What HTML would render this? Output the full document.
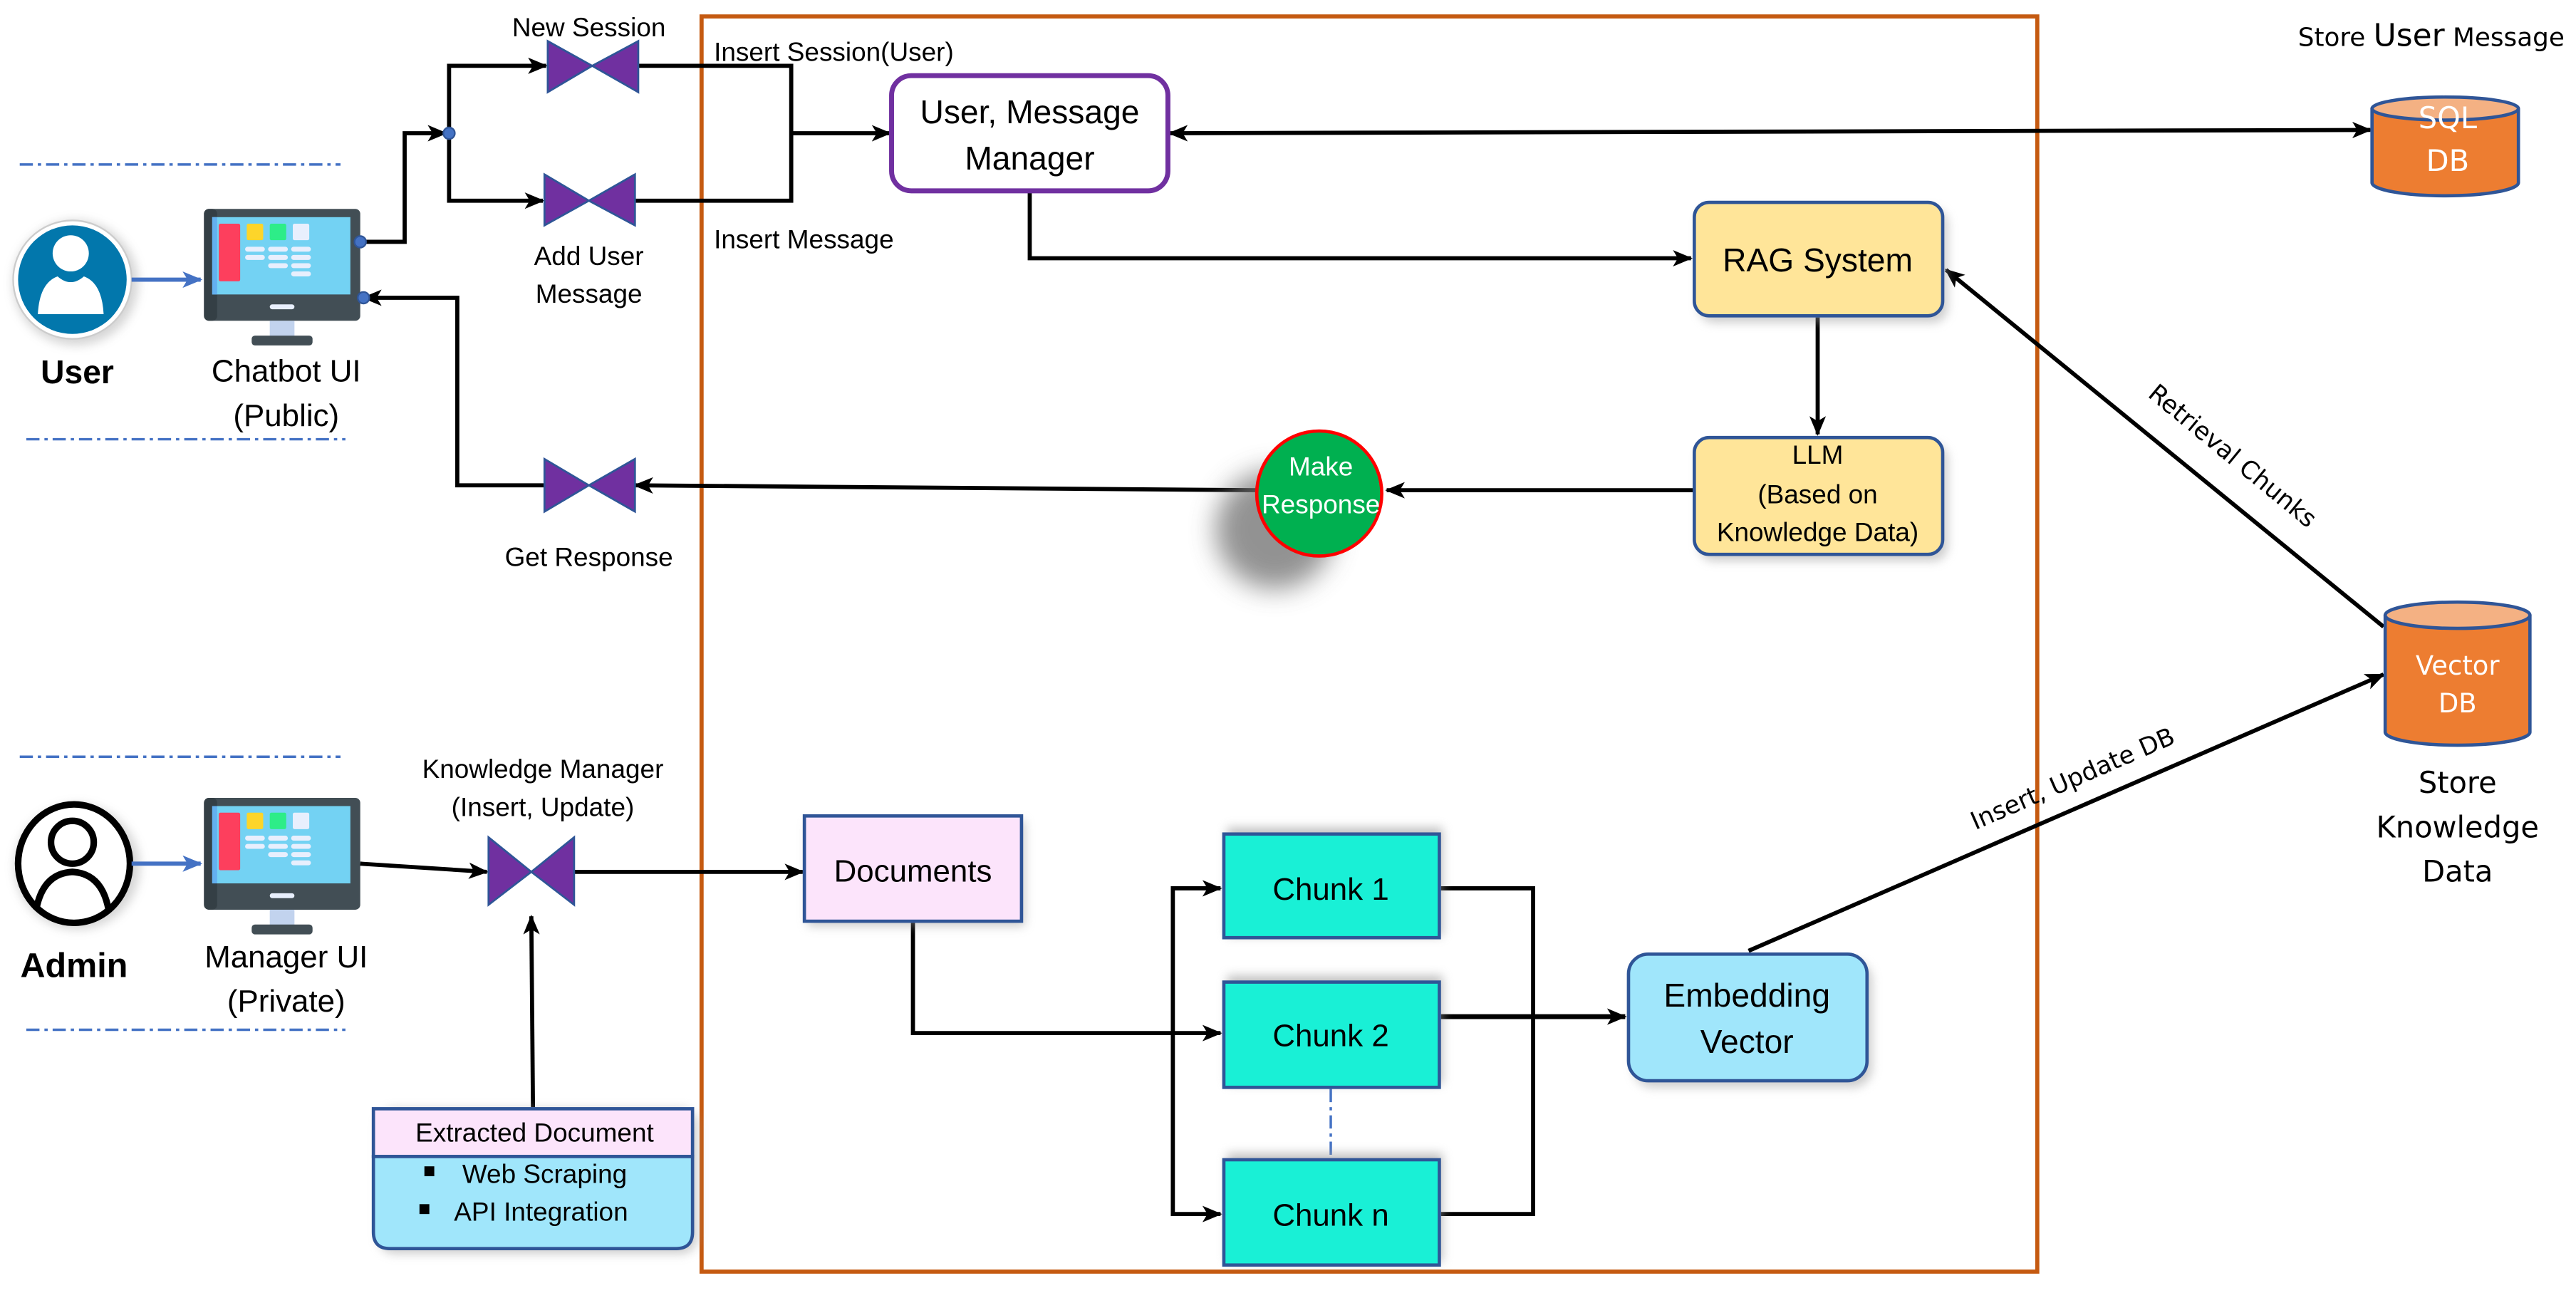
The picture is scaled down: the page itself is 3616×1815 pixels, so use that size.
<!DOCTYPE html>
<html><head><meta charset="utf-8"><style>
html,body{margin:0;padding:0;background:#fff;}
svg{display:block;}
text{font-family:"Liberation Sans Narrow","Liberation Sans",sans-serif;fill:#000;}
.v{font-family:"DejaVu Sans","Liberation Sans",sans-serif;}
</style></head><body>
<svg width="3616" height="1815" viewBox="0 0 1566 786" preserveAspectRatio="none" xmlns="http://www.w3.org/2000/svg">
<defs>
<marker id="a" viewBox="0 0 12 10" refX="11" refY="5" markerWidth="12" markerHeight="10" markerUnits="userSpaceOnUse" orient="auto-start-reverse">
<path d="M0,0 L12,5 L0,10 L3,5 Z" fill="#000"/>
</marker>
<marker id="ab" viewBox="0 0 12 10" refX="11" refY="5" markerWidth="12" markerHeight="10" markerUnits="userSpaceOnUse" orient="auto">
<path d="M0,0 L12,5 L0,10 L3,5 Z" fill="#4472c4"/>
</marker>
<filter id="sh" x="-30%" y="-30%" width="160%" height="160%"><feGaussianBlur stdDeviation="3"/></filter>
<filter id="sh2" x="-50%" y="-50%" width="200%" height="200%"><feGaussianBlur stdDeviation="8"/></filter>
<g id="mon">
<rect x="0" y="0" width="95" height="68" rx="3" fill="#424e55"/>
<rect x="0" y="0" width="8" height="68" rx="3" fill="#343f45"/>
<rect x="5" y="5" width="84" height="47" fill="#73d2f3"/>
<rect x="5" y="5" width="3" height="47" fill="#63b0f0"/>
<rect x="9" y="9" width="13" height="35" rx="1" fill="#fd3f5d"/>
<rect x="26" y="9" width="10" height="10" rx="1" fill="#fdd52a"/>
<rect x="40" y="9" width="10" height="10" rx="1" fill="#2ded88"/>
<rect x="54" y="9" width="10" height="10" rx="1" fill="#e8effd"/>
<g fill="#e8effd"><rect x="25" y="23" width="12" height="3" rx="1.5"/><rect x="39" y="23" width="12" height="3" rx="1.5"/><rect x="53" y="23" width="12" height="3" rx="1.5"/>
<rect x="25" y="28" width="12" height="3" rx="1.5"/><rect x="39" y="28" width="12" height="3" rx="1.5"/><rect x="53" y="28" width="12" height="3" rx="1.5"/>
<rect x="39" y="33" width="12" height="3" rx="1.5"/><rect x="53" y="33" width="12" height="3" rx="1.5"/><rect x="53" y="38" width="12" height="3" rx="1.5"/>
<rect x="40" y="58" width="15" height="3" rx="1.5"/></g>
<rect x="40" y="68" width="15" height="11" fill="#c2d3ee"/>
<rect x="29" y="77" width="37" height="6" rx="2" fill="#424e55"/>
</g>
</defs>

<rect x="426.5" y="10" width="812" height="763" fill="none" stroke="#c55a11" stroke-width="2.5"/>

<g stroke="#4472c4" stroke-width="1.5" stroke-dasharray="8,3,2,3" fill="none">
<line x1="12" y1="100" x2="207" y2="100"/><line x1="16" y1="267" x2="210" y2="267"/>
<line x1="12" y1="460" x2="207" y2="460"/><line x1="16" y1="626" x2="210" y2="626"/>
<line x1="809" y1="662" x2="809" y2="705"/>
</g>

<circle cx="46" cy="172" r="38" fill="#888" opacity="0.35" filter="url(#sh)"/>
<circle cx="44" cy="170" r="36" fill="#fff" stroke="#ccc" stroke-width="1"/>
<circle cx="44" cy="170" r="33" fill="#0277ac"/>
<circle cx="43" cy="154" r="11" fill="#fff"/>
<path d="M23,191 Q24,172 35,168 Q43,175 51,168 Q62,172 63,191 Z" fill="#fff"/>
<text x="47" y="233" font-size="20" font-weight="bold" text-anchor="middle" font-family="Liberation Sans">User</text>
<line x1="80" y1="170" x2="122" y2="170" stroke="#4472c4" stroke-width="2.5" marker-end="url(#ab)"/>

<use href="#mon" x="124" y="127"/>
<text x="174" y="232" font-size="19" text-anchor="middle">Chatbot UI</text>
<text x="174" y="259" font-size="19" text-anchor="middle">(Public)</text>

<circle cx="47" cy="527" r="38" fill="#888" opacity="0.35" filter="url(#sh)"/>
<ellipse cx="45" cy="525" rx="34" ry="36" fill="#fff" stroke="#000" stroke-width="4"/>
<circle cx="44" cy="512" r="13" fill="#fff" stroke="#000" stroke-width="4"/>
<path d="M22,553 Q26,531 44,530 Q62,531 66,553" fill="none" stroke="#000" stroke-width="4"/>
<text x="45" y="594" font-size="21" font-weight="bold" text-anchor="middle" font-family="Liberation Sans">Admin</text>
<line x1="80" y1="525" x2="122" y2="525" stroke="#4472c4" stroke-width="2.5" marker-end="url(#ab)"/>

<use href="#mon" x="124" y="485"/>
<text x="174" y="588" font-size="19" text-anchor="middle">Manager UI</text>
<text x="174" y="615" font-size="19" text-anchor="middle">(Private)</text>

<g stroke="#000" stroke-width="2.5" fill="none">
<polyline points="219,147 246,147 246,81 271,81" marker-end="url(#a)"/>
<polyline points="273,81 273,40 332,40" marker-end="url(#a)"/>
<polyline points="273,81 273,122 330,122" marker-end="url(#a)"/>
<polyline points="388,40 481,40 481,122 386,122"/>
<line x1="481" y1="81" x2="541" y2="81" marker-end="url(#a)"/>
<line x1="711" y1="81" x2="1441" y2="79" marker-start="url(#a)" marker-end="url(#a)"/>
<polyline points="626,117 626,157 1028,157" marker-end="url(#a)"/>
<line x1="1105" y1="193" x2="1105" y2="264" marker-end="url(#a)"/>
<line x1="1030" y1="298" x2="843" y2="298" marker-end="url(#a)"/>
<line x1="764" y1="298" x2="386" y2="295" marker-end="url(#a)"/>
<polyline points="331,295 278,295 278,181 221,181" marker-end="url(#a)"/>
<line x1="1449" y1="381" x2="1183" y2="164" marker-end="url(#a)"/>
<line x1="1063" y1="578" x2="1449" y2="410" marker-end="url(#a)"/>
<line x1="219" y1="525" x2="296" y2="530" marker-end="url(#a)"/>
<line x1="349" y1="530" x2="488" y2="530" marker-end="url(#a)"/>
<line x1="324" y1="673" x2="323" y2="557" marker-end="url(#a)"/>
<polyline points="555,561 555,628 742,628" marker-end="url(#a)"/>
<polyline points="713,628 713,540 742,540" marker-end="url(#a)"/>
<polyline points="713,628 713,738 742,738" marker-end="url(#a)"/>
<polyline points="876,540 932,540 932,738 876,738"/>
<line x1="876" y1="618" x2="988" y2="618" stroke-width="3" marker-end="url(#a)"/>
</g>
<g fill="#4472c4" stroke="#2f5597" stroke-width="1"><circle cx="219" cy="147" r="3.5"/><circle cx="273" cy="81" r="3.5"/><circle cx="221" cy="181" r="3.5"/></g>

<g fill="#7030a0" stroke="#2f5597" stroke-width="1.2">
<path d="M333,25 L360,40 L333,56 Z M388,25 L360,40 L388,56 Z"/>
<path d="M331,106 L358,122 L331,137 Z M386,106 L358,122 L386,137 Z"/>
<path d="M331,279 L358,295 L331,311 Z M386,279 L358,295 L386,311 Z"/>
<path d="M297,509 L323,530 L297,550 Z M349,509 L323,530 L349,550 Z"/>
</g>
<text x="358" y="22" font-size="16" text-anchor="middle">New Session</text>
<text x="434" y="37" font-size="16">Insert Session(User)</text>
<text x="358" y="161" font-size="16" text-anchor="middle">Add User</text>
<text x="358" y="184" font-size="16" text-anchor="middle">Message</text>
<text x="434" y="151" font-size="16">Insert Message</text>
<text x="358" y="344" font-size="16" text-anchor="middle">Get Response</text>
<text x="330" y="473" font-size="16" text-anchor="middle">Knowledge Manager</text>
<text x="330" y="496" font-size="16" text-anchor="middle">(Insert, Update)</text>

<rect x="542" y="46" width="168" height="70" rx="12" fill="#fff" stroke="#7030a0" stroke-width="3"/>
<text x="626" y="75" font-size="20" text-anchor="middle">User, Message</text>
<text x="626" y="103" font-size="20" text-anchor="middle">Manager</text>

<rect x="1033" y="127" width="151" height="69" rx="9" fill="#999" opacity="0.5" filter="url(#sh)"/>
<rect x="1030" y="123" width="151" height="69" rx="9" fill="#ffe599" stroke="#2f5597" stroke-width="2"/>
<text x="1105" y="165" font-size="20" text-anchor="middle">RAG System</text>
<rect x="1033" y="270" width="151" height="71" rx="9" fill="#999" opacity="0.5" filter="url(#sh)"/>
<rect x="1030" y="266" width="151" height="71" rx="9" fill="#ffe599" stroke="#2f5597" stroke-width="2"/>
<text x="1105" y="282" font-size="16" text-anchor="middle">LLM</text>
<text x="1105" y="306" font-size="16" text-anchor="middle">(Based on</text>
<text x="1105" y="329" font-size="16" text-anchor="middle">Knowledge Data)</text>

<circle cx="775" cy="322" r="36" fill="#777" opacity="0.8" filter="url(#sh2)"/>
<circle cx="802" cy="300" r="38" fill="#00b050" stroke="#ff0000" stroke-width="2"/>
<text x="803" y="289" font-size="16" text-anchor="middle" style="fill:#fff">Make</text>
<text x="803" y="312" font-size="16" text-anchor="middle" style="fill:#fff">Response</text>

<path d="M1442,66 L1442,111 A44.5,8 0 0 0 1531,111 L1531,66" fill="#ed7d31" stroke="#2f5597" stroke-width="2"/>
<ellipse cx="1486.5" cy="66" rx="44.5" ry="7" fill="#f4b183" stroke="#2f5597" stroke-width="2"/>
<text x="1488" y="78" font-size="18" text-anchor="middle" class="v" style="fill:#fff">SQL</text>
<text x="1488" y="104" font-size="18" text-anchor="middle" class="v" style="fill:#fff">DB</text>
<text x="1478" y="28" font-size="15.5" text-anchor="middle" class="v">Store <tspan font-size="19">User</tspan> Message</text>

<path d="M1450,374 L1450,445 A44,8 0 0 0 1538,445 L1538,374" fill="#ed7d31" stroke="#2f5597" stroke-width="2"/>
<ellipse cx="1494" cy="374" rx="44" ry="8" fill="#f4b183" stroke="#2f5597" stroke-width="2"/>
<text x="1494" y="410" font-size="16" text-anchor="middle" class="v" style="fill:#fff">Vector</text>
<text x="1494" y="433" font-size="16" text-anchor="middle" class="v" style="fill:#fff">DB</text>
<text x="1494" y="482" font-size="18" text-anchor="middle" class="v">Store</text>
<text x="1494" y="509" font-size="18" text-anchor="middle" class="v">Knowledge</text>
<text x="1494" y="536" font-size="18" text-anchor="middle" class="v">Data</text>

<text x="1354" y="281" font-size="15" text-anchor="middle" class="v" transform="rotate(39.5 1354 281)">Retrieval Chunks</text>
<text x="1262" y="478" font-size="15" text-anchor="middle" class="v" transform="rotate(-23.5 1262 478)">Insert, Update DB</text>

<rect x="491" y="499" width="132" height="64" fill="#999" opacity="0.5" filter="url(#sh)"/>
<rect x="489" y="496" width="132" height="64" fill="#fce4fb" stroke="#2f5597" stroke-width="2"/>
<text x="555" y="536" font-size="19" text-anchor="middle">Documents</text>

<rect x="746" y="503" width="131" height="66" fill="#999" opacity="0.6" filter="url(#sh)"/>
<rect x="744" y="507" width="131" height="63" fill="#19f0d6" stroke="#2f5597" stroke-width="2"/>
<text x="809" y="547" font-size="19" text-anchor="middle">Chunk 1</text>
<rect x="746" y="593" width="131" height="66" fill="#999" opacity="0.6" filter="url(#sh)"/>
<rect x="744" y="597" width="131" height="64" fill="#19f0d6" stroke="#2f5597" stroke-width="2"/>
<text x="809" y="636" font-size="19" text-anchor="middle">Chunk 2</text>
<rect x="746" y="701" width="131" height="66" fill="#999" opacity="0.6" filter="url(#sh)"/>
<rect x="744" y="705" width="131" height="64" fill="#19f0d6" stroke="#2f5597" stroke-width="2"/>
<text x="809" y="745" font-size="19" text-anchor="middle">Chunk n</text>

<rect x="993" y="584" width="145" height="77" rx="12" fill="#999" opacity="0.5" filter="url(#sh)"/>
<rect x="990" y="580" width="145" height="77" rx="12" fill="#a0e6fb" stroke="#2f5597" stroke-width="2"/>
<text x="1062" y="612" font-size="20" text-anchor="middle">Embedding</text>
<text x="1062" y="640" font-size="20" text-anchor="middle">Vector</text>

<rect x="230" y="674" width="194" height="88" rx="10" fill="#999" opacity="0.5" filter="url(#sh)"/>
<path d="M227,703 L421,703 L421,749 Q421,759 411,759 L237,759 Q227,759 227,749 Z" fill="#a0e6fb" stroke="#2f5597" stroke-width="2"/>
<rect x="227" y="674" width="194" height="29" fill="#fce4fb" stroke="#2f5597" stroke-width="2"/>
<text x="325" y="694" font-size="16" text-anchor="middle">Extracted Document</text>
<rect x="258" y="709" width="6" height="6" fill="#000"/>
<text x="281" y="719" font-size="16">Web Scraping</text>
<rect x="255" y="732" width="6" height="6" fill="#000"/>
<text x="276" y="742" font-size="16">API Integration</text>
</svg>
</body></html>
